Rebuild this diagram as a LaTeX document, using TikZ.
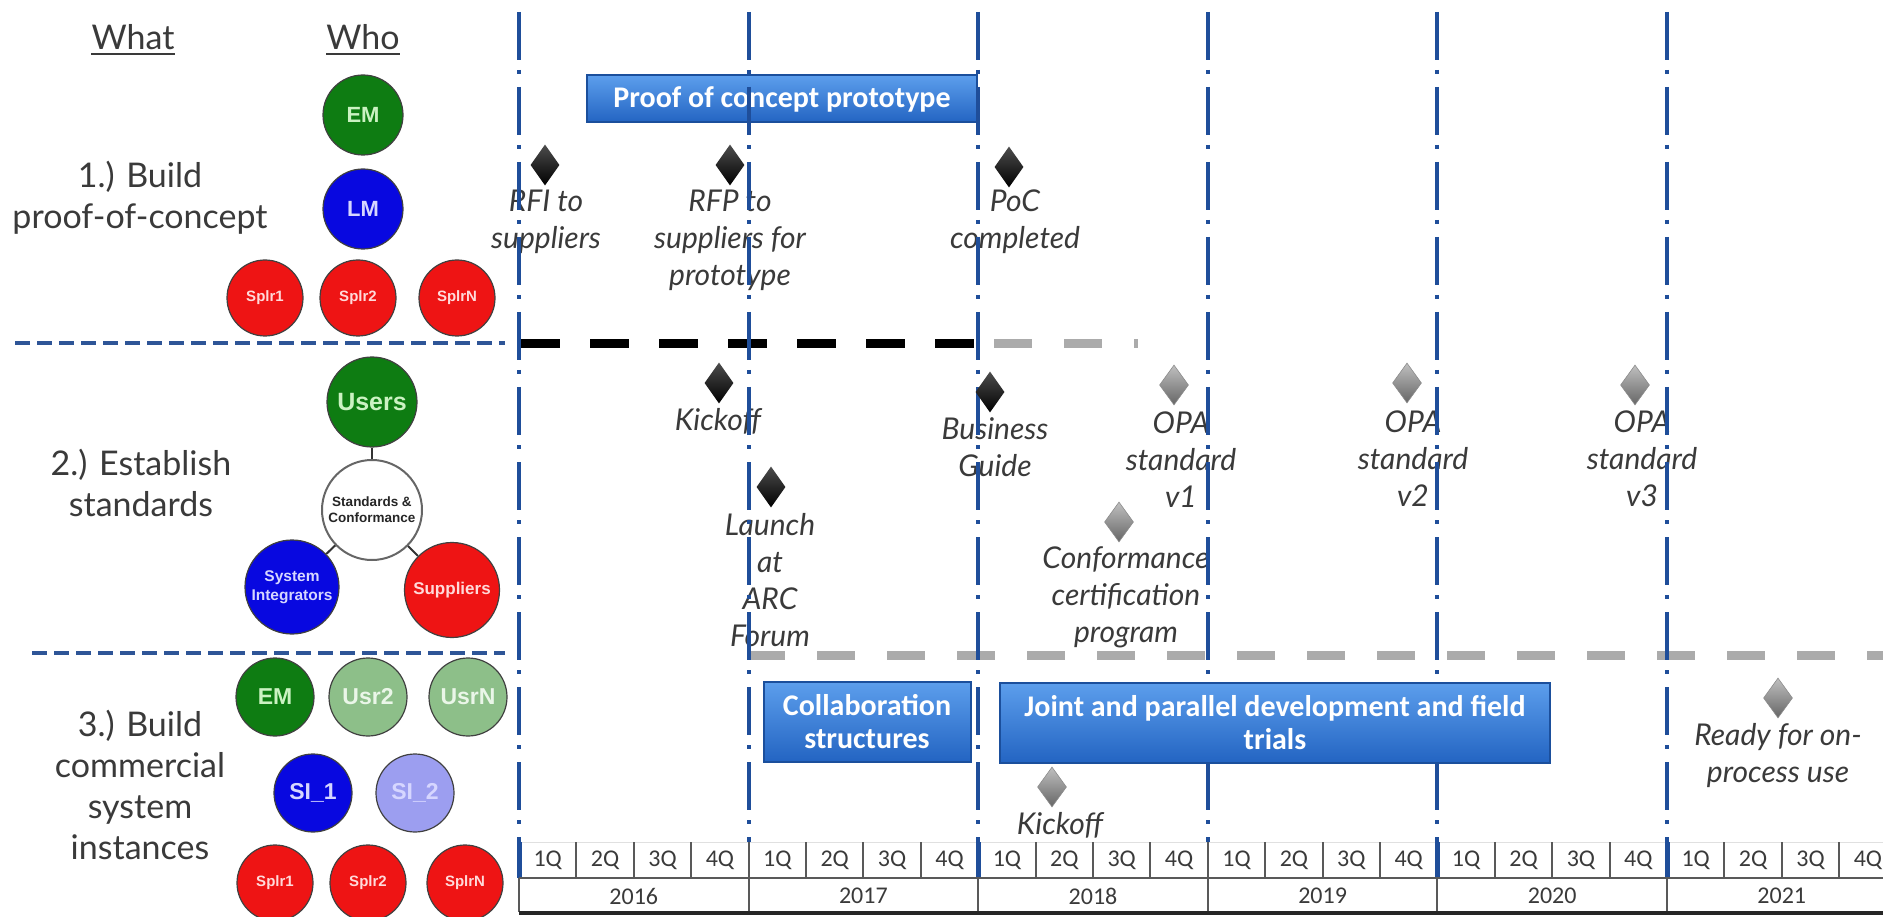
\documentclass[tikz,border=0pt]{standalone}
\usepackage{fontspec}
\setmainfont{Lato}
\newfontfamily\barfont{Carlito}
\newfontfamily\whofont{Liberation Sans}
\usetikzlibrary{shapes.geometric}

\definecolor{gridblue}{HTML}{1F4E9A}
\definecolor{sepblue}{HTML}{2E5597}
\definecolor{dashgray}{HTML}{ABABAB}
\definecolor{txt}{HTML}{3A3A3A}
\definecolor{emgreen}{HTML}{0E7C12}
\definecolor{lmblue}{HTML}{0808E0}
\definecolor{splred}{HTML}{EE1414}
\definecolor{palegreen}{HTML}{8DBF89}
\definecolor{paleblue}{HTML}{9C9EF0}
\definecolor{bartop}{HTML}{5C9EEC}
\definecolor{barmid}{HTML}{3A84DE}
\definecolor{barbot}{HTML}{2364C2}
\definecolor{baredge}{HTML}{1B4F9C}
\definecolor{ongreen}{HTML}{CBF2C2}
\definecolor{onblue}{HTML}{D6D6FF}
\definecolor{onred}{HTML}{FFDADA}
\definecolor{onpale}{HTML}{EAF6E8}

\begin{document}
\begin{tikzpicture}[x=1pt,y=-1pt,
  sep/.style={draw=sepblue, line width=4pt, dash pattern=on 15pt off 7pt},
  phaseblack/.style={draw=black, line width=9pt, dash pattern=on 39pt off 30pt},
  phasegray/.style={draw=dashgray, line width=9pt, dash pattern=on 38pt off 32pt},
  yearline/.style={draw=gridblue, line width=4pt,
    dash pattern=on 48pt off 10pt on 4pt off 13pt, dash phase=63pt},
  ms/.style={font=\fontsize{30}{37}\selectfont\itshape, text=txt, align=center, inner sep=0pt},
  blackgem/.style={diamond, minimum width=29pt, minimum height=41pt, inner sep=0pt,
    top color=black!70, bottom color=black, draw=none},
  graygem/.style={diamond, minimum width=29pt, minimum height=40pt, inner sep=0pt,
    top color=black!25, bottom color=black!60, draw=black!45, line width=0.6pt},
  bar/.style={rectangle, draw=baredge, line width=2pt, top color=bartop,
    middle color=barmid, bottom color=barbot, text=white, align=center, inner sep=0pt,
    font=\barfont\bfseries\fontsize{30}{33}\selectfont},
  qlab/.style={font=\barfont\fontsize{24}{24}\selectfont, text=txt, inner sep=0pt},
  axisline/.style={draw=black!65, line width=2pt},
  head/.style={font=\fontsize{34}{41}\selectfont, text=txt, inner sep=0pt},
  sect/.style={font=\fontsize{34}{41}\selectfont, text=txt, align=center, inner sep=0pt},
  uline/.style={draw=txt, line width=2.5pt},
  who/.style={circle, draw=black!75, line width=1.2pt, inner sep=0pt, align=center},
  link/.style={draw=black!80, line width=2pt}
]
\useasboundingbox (0,0) rectangle (1883,917);
\clip (0,0) rectangle (1883,917);

% separators of the three work streams
\draw[sep] (15,343) -- (505,343);
\draw[sep] (32,653) -- (505,653);

% phase boundaries
\draw[phaseblack] (521,344) -- (977,344);
\draw[phasegray] (994,344) -- (1138,344);
\draw[phasegray] (747,655) -- (1883,655);

% milestone texts
\node[ms] (rfi) at (546,222) {RFI to\\suppliers};
\node[ms] (rfp) at (730,240) {RFP to\\suppliers for\\prototype};
\node[ms] (poc) at (1015,222) {PoC\\completed};
\node[ms] (kick1) at (718,421) {Kickoff};
\node[ms] (guide) at (995,447) {Business\\Guide};
\node[ms] (opa1) at (1181,460) {OPA\\standard\\v1};
\node[ms] (opa2) at (1413,459) {OPA\\standard\\v2};
\node[ms] (opa3) at (1642,459) {OPA\\standard\\v3};
\node[ms] (launch) at (770,580) {Launch\\at\\ARC\\Forum};
\node[ms] (conf) at (1126,597) {Conformance\\certification\\program};
\node[ms] (ready) at (1778,756) {Ready for on-\\process use};
\node[ms] (kick2) at (1060,825) {Kickoff};

% first activity bar
\node[bar, minimum width=390pt, minimum height=47pt] (proof) at (782,99) {Proof of concept prototype};

% year boundaries
\foreach \k in {0,...,5}
  \draw[yearline] ({519+229.6*\k},0) -- ({519+229.6*\k},842);

% milestone markers
\node[blackgem] (m-rfi) at (545,165) {};
\node[blackgem] (m-rfp) at (730,165) {};
\node[blackgem] (m-poc) at (1009,167) {};
\node[blackgem] (m-kick1) at (719,383) {};
\node[blackgem] (m-guide) at (990,392) {};
\node[blackgem] (m-launch) at (771,487) {};
\node[graygem] (m-opa1) at (1174,385) {};
\node[graygem] (m-conf) at (1119,522) {};
\node[graygem] (m-opa2) at (1407,383) {};
\node[graygem] (m-opa3) at (1635,385) {};
\node[graygem] (m-ready) at (1778,698) {};
\node[graygem] (m-kick2) at (1052,787) {};

% later activity bars
\node[bar, minimum width=207pt, minimum height=80pt] (collab) at (867,722) {Collaboration\\structures};
\node[bar, minimum width=550pt, minimum height=80pt] (joint) at (1275,723) {Joint and parallel development and field\\trials};

% time axis
\draw[draw=black!12, line width=1pt] (519,842) -- (1883,842);
\foreach \q in {1,...,23}
  \draw[axisline] ({519+57.4*\q},842) -- ({519+57.4*\q},878);
\foreach \k in {0,2,4,5}
  \draw[draw=gridblue, line width=5pt] ({519+229.6*\k},842) -- ({519+229.6*\k},878);
\draw[axisline] (519,878) -- (1883,878);
\foreach \k in {0,...,5}
  \draw[axisline] ({519+229.6*\k},878) -- ({519+229.6*\k},912);
\draw[draw=black!85, line width=4pt] (519,913) -- (1883,913);
\foreach \yr [count=\k from 0] in {2016,...,2021} {
  \foreach \q in {1,...,4}
    \node[qlab] (q\yr-\q) at ({519+229.6*\k+57.4*(\q-0.5)},860) {\q Q};
  \node[qlab] (y\yr) at ({519+229.6*\k+114.8},896) {\yr};
}

% column headings
\node[head] (whatlbl) at (133,37) {What};
\node[head] (wholbl) at (363,37) {Who};
\draw[uline] ([yshift=-4pt]whatlbl.south west) -- ([yshift=-4pt]whatlbl.south east);
\draw[uline] ([yshift=-4pt]wholbl.south west) -- ([yshift=-4pt]wholbl.south east);

% work streams
\node[sect] (s1) at (140,198) {1.) Build\\proof-of-concept};
\node[sect] (s2) at (141,483) {2.) Establish\\standards};
\node[sect] (s3) at (140,785) {3.) Build\\commercial\\system\\instances};

% stream 1 participants
\node[who, fill=emgreen, minimum size=80pt, text=ongreen, font=\whofont\bfseries\fontsize{22}{22}\selectfont] (em1) at (363,115) {EM};
\node[who, fill=lmblue, minimum size=80pt, text=onblue, font=\whofont\bfseries\fontsize{22}{22}\selectfont] (lm1) at (363,209) {LM};
\node[who, fill=splred, minimum size=76pt, text=onred, font=\whofont\bfseries\fontsize{15}{15}\selectfont] (sp1a) at (265,298) {Splr1};
\node[who, fill=splred, minimum size=76pt, text=onred, font=\whofont\bfseries\fontsize{15}{15}\selectfont] (sp1b) at (358,298) {Splr2};
\node[who, fill=splred, minimum size=76pt, text=onred, font=\whofont\bfseries\fontsize{15}{15}\selectfont] (sp1n) at (457,298) {SplrN};

% stream 2 participants
\node[who, fill=emgreen, minimum size=90pt, text=ongreen, font=\whofont\bfseries\fontsize{25}{25}\selectfont] (users) at (372,402) {Users};
\node[who, fill=white, draw=black!60, line width=2pt, minimum size=100pt, text=black!85, font=\whofont\bfseries\fontsize{13.5}{16}\selectfont] (sc) at (372,510) {Standards \&\\Conformance};
\node[who, fill=lmblue, minimum size=94pt, text=onblue, font=\whofont\bfseries\fontsize{15.5}{19}\selectfont] (si) at (292,587) {System\\Integrators};
\node[who, fill=splred, minimum size=95pt, text=onred, font=\whofont\bfseries\fontsize{17}{17}\selectfont] (sup) at (452,590) {Suppliers};
\draw[link] (users) -- (sc);
\draw[link] (sc) -- (si);
\draw[link] (sc) -- (sup);

% stream 3 participants
\node[who, fill=emgreen, minimum size=78pt, text=ongreen, font=\whofont\bfseries\fontsize{23}{23}\selectfont] (em3) at (275,697) {EM};
\node[who, fill=palegreen, minimum size=78pt, text=onpale, font=\whofont\bfseries\fontsize{23}{23}\selectfont] (usr2) at (368,697) {Usr2};
\node[who, fill=palegreen, minimum size=78pt, text=onpale, font=\whofont\bfseries\fontsize{23}{23}\selectfont] (usrn) at (468,697) {UsrN};
\node[who, fill=lmblue, minimum size=78pt, text=onblue, font=\whofont\bfseries\fontsize{23}{23}\selectfont] (si1) at (313,793) {SI\_1};
\node[who, fill=paleblue, minimum size=78pt, text=onblue, font=\whofont\bfseries\fontsize{23}{23}\selectfont] (si2) at (415,793) {SI\_2};
\node[who, fill=splred, minimum size=76pt, text=onred, font=\whofont\bfseries\fontsize{15}{15}\selectfont] (sp3a) at (275,883) {Splr1};
\node[who, fill=splred, minimum size=76pt, text=onred, font=\whofont\bfseries\fontsize{15}{15}\selectfont] (sp3b) at (368,883) {Splr2};
\node[who, fill=splred, minimum size=76pt, text=onred, font=\whofont\bfseries\fontsize{15}{15}\selectfont] (sp3n) at (465,883) {SplrN};
\end{tikzpicture}
\end{document}
